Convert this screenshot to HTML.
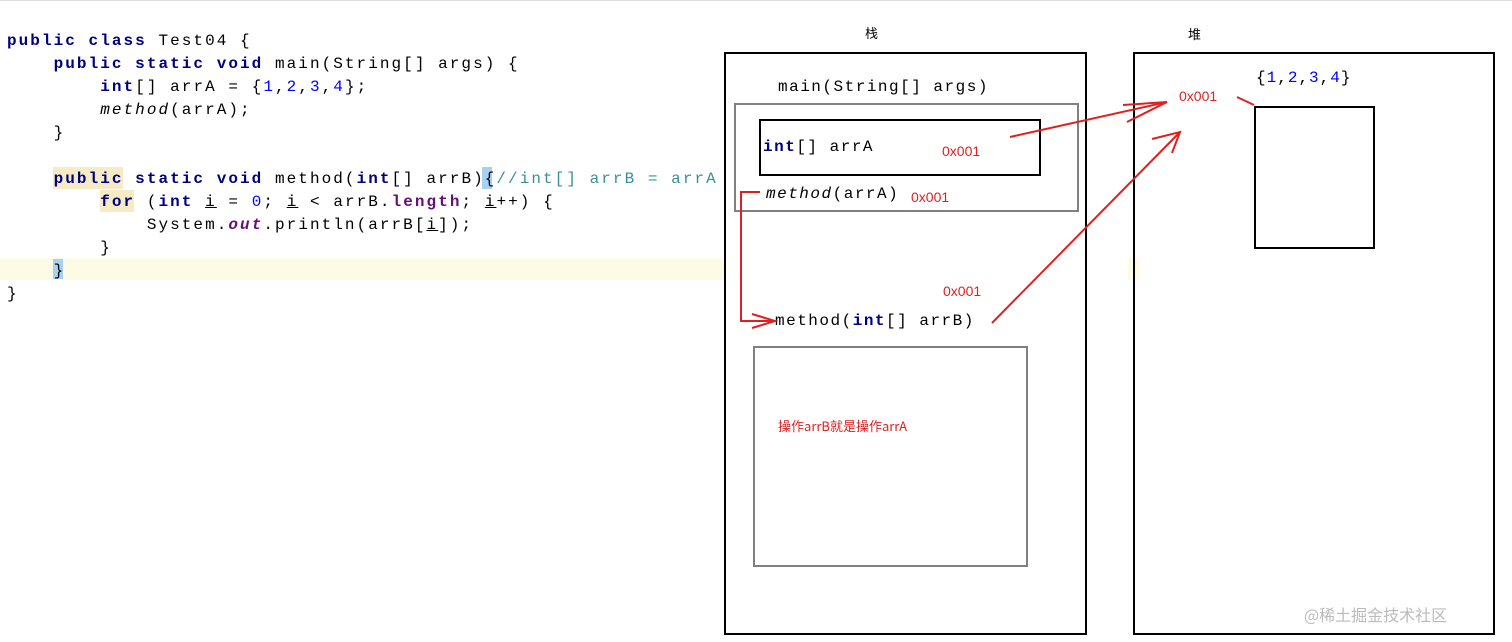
<!DOCTYPE html>
<html><head><meta charset="utf-8"><style>
body{margin:0;width:1512px;height:642px;background:#fff;position:relative;overflow:hidden;font-family:"Liberation Mono",monospace}
*{box-sizing:border-box}
.code{position:absolute;left:7px;font-size:16px;letter-spacing:2.05px;white-space:pre;color:#000;line-height:23px}
.k{color:#000080;font-weight:bold}.n{color:#0000ff}.c{color:#3a8f9a}.p{color:#660e7a;font-weight:bold}
.a{position:absolute}
.r{color:#e02020;font-family:"Liberation Sans",sans-serif;font-size:14px;position:absolute}
</style></head><body>
<div class="a" style="left:0;top:0;width:1512px;height:1px;background:#ddd"></div>
<div class="a" style="left:0;top:258px;width:725px;height:22px;background:#fdfbe6"></div>
<div class="a" style="left:1128px;top:258px;width:12px;height:22px;background:#fdfbe6"></div>
<div class="a" style="left:53px;top:167px;width:70px;height:22px;background:#f5ecc5"></div>
<div class="a" style="left:100px;top:190px;width:34px;height:22px;background:#f5ecc5"></div>
<div class="a" style="left:482px;top:167px;width:10px;height:22px;background:#a8d0f0"></div>
<div class="a" style="left:53px;top:259px;width:10px;height:20px;background:#a8d0f0"></div>
<div class="code" style="top:30px"><span class="k">public class</span> Test04 {
    <span class="k">public static void</span> main(String[] args) {
        <span class="k">int</span>[] arrA = {<span class="n">1</span>,<span class="n">2</span>,<span class="n">3</span>,<span class="n">4</span>};
        <i>method</i>(arrA);
    }

    <span class="k">public static void</span> method(<span class="k">int</span>[] arrB){<span class="c">//int[] arrB = arrA</span>
        <span class="k">for</span> (<span class="k">int</span> <u>i</u> = <span class="n">0</span>; <u>i</u> &lt; arrB.<span class="p">length</span>; <u>i</u>++) {
            System.<i class="p">out</i>.println(arrB[<u>i</u>]);
        }
    }
}</div>
<div class="a" style="left:865px;top:23px;font:13px 'Noto Sans CJK SC',sans-serif">栈</div>
<div class="a" style="left:1188px;top:24px;font:13px 'Noto Sans CJK SC',sans-serif">堆</div>
<div class="a" style="left:724px;top:52px;width:363px;height:583px;border:2px solid #000"></div>
<div class="a" style="left:1133px;top:52px;width:362px;height:583px;border:2px solid #000"></div>
<div class="a" style="left:734px;top:103px;width:345px;height:109px;border:2px solid #808080"></div>
<div class="a" style="left:759px;top:119px;width:282px;height:57px;border:2px solid #000"></div>
<div class="a" style="left:753px;top:346px;width:275px;height:221px;border:2px solid #808080"></div>
<div class="a" style="left:1254px;top:106px;width:121px;height:143px;border:2px solid #000"></div>
<div class="a" style="left:778px;top:78px;font-size:16px;letter-spacing:1.5px">main(String[] args)</div>
<div class="a" style="left:763px;top:138px;font-size:16px;letter-spacing:1.5px"><span class="k">int</span>[] arrA</div>
<div class="a" style="left:766px;top:185px;font-size:16px;letter-spacing:1.5px"><i>method</i>(arrA)</div>
<div class="a" style="left:775px;top:312px;font-size:16px;letter-spacing:1.5px">method(<span class="k">int</span>[] arrB)</div>
<div class="a" style="left:1256px;top:69px;font-size:16px;letter-spacing:1px">{<span class="n">1</span>,<span class="n">2</span>,<span class="n">3</span>,<span class="n">4</span>}</div>
<div class="r" style="left:942px;top:143px">0x001</div>
<div class="r" style="left:911px;top:189px">0x001</div>
<div class="r" style="left:943px;top:283px">0x001</div>
<div class="r" style="left:1179px;top:88px">0x001</div>
<div class="r" style="left:778px;top:416px;font-family:'Noto Sans CJK SC',sans-serif;font-size:13px">操作arrB就是操作arrA</div>
<div class="a" style="left:1304px;top:602px;color:#bbb;font:16px 'Noto Sans CJK SC',sans-serif">@稀土掘金技术社区</div>
<svg class="a" style="left:0;top:0" width="1512" height="642">
<g stroke="#e02020" stroke-width="2" fill="none">
<polyline points="760,192 741,192 741,321 775,321"/>
<polyline points="752,314 775,321 752,328"/>
<line x1="1010" y1="137" x2="1167" y2="102"/>
<polyline points="1123,105 1167,102 1127,122"/>
<line x1="992" y1="323" x2="1180" y2="132"/>
<polyline points="1152,139 1180,132 1172,153"/>
<line x1="1237" y1="97" x2="1254" y2="105"/>
</g></svg>
</body></html>
